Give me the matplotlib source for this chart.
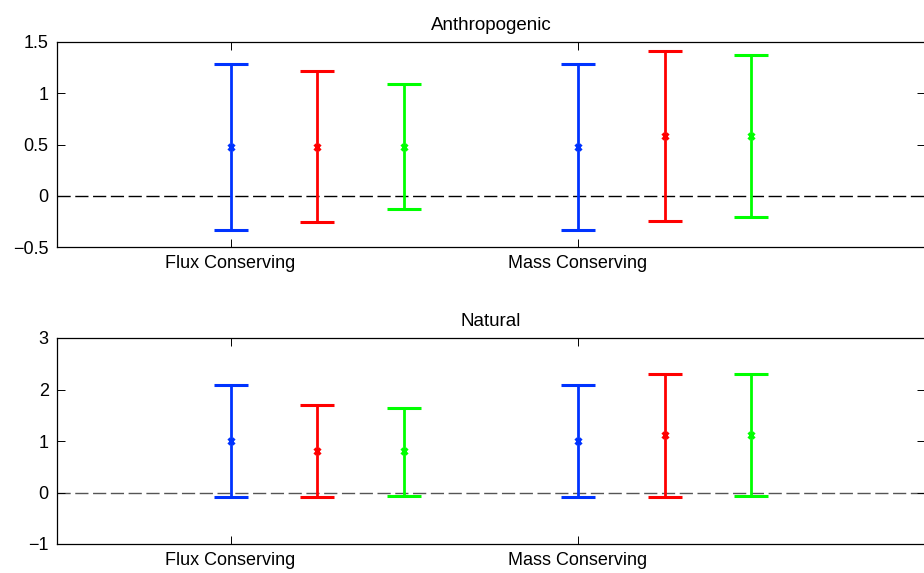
import matplotlib
matplotlib.use("Agg")
import matplotlib.pyplot as plt

plt.rcParams['font.family'] = ['Liberation Sans', 'DejaVu Sans']
plt.rcParams['lines.scale_dashes'] = False

# data
groups = ["Flux Conserving", "Mass Conserving"]
offsets = [0.0, 0.25, 0.5]
colors = ["#0033ff", "#ff0000", "#00ff00"]

# Anthropogenic: centre, lower, upper for (blue, red, green) in each group
anth_mid = [[0.48, 0.48, 0.48], [0.48, 0.58, 0.58]]
anth_lo = [[-0.33, -0.26, -0.13], [-0.33, -0.25, -0.21]]
anth_hi = [[1.29, 1.22, 1.09], [1.29, 1.41, 1.37]]

# Natural
nat_mid = [[1.0, 0.80, 0.80], [1.0, 1.11, 1.11]]
nat_lo = [[-0.08, -0.09, -0.06], [-0.08, -0.08, -0.07]]
nat_hi = [[2.09, 1.69, 1.65], [2.09, 2.31, 2.30]]


def panel(ax, title, mid, lo, hi, ylim, yticks, zero_color):
    ax.axhline(0, color=zero_color, lw=1.0, dashes=(9.5, 3.3), zorder=1)
    for g in range(len(groups)):
        for k in range(3):
            x = g + 1 + offsets[k]
            m = mid[g][k]
            ax.errorbar([x], [m], yerr=[[m - lo[g][k]], [hi[g][k] - m]],
                        fmt='x', color=colors[k], ms=4.5, mew=2.2,
                        elinewidth=2.0, capsize=12.2, capthick=2.0, zorder=3)
    ax.set_xlim(0.5, 3.0)
    ax.set_ylim(*ylim)
    ax.set_yticks(yticks)
    ax.set_yticklabels([("%g" % t).replace("-", "\u2212") for t in yticks])
    ax.set_xticks([1, 2])
    ax.set_xticklabels(groups)
    ax.tick_params(direction='in', length=5.8, width=0.7, labelsize=13,
                   top=True, right=True, pad=6)
    ax.tick_params(axis='x', pad=6)
    for s in ax.spines.values():
        s.set_linewidth(0.9)
    ax.set_title(title, fontsize=13.5, pad=9)


fig = plt.figure(figsize=(9.24, 5.73), dpi=100)
ax1 = fig.add_axes([57 / 924, 1 - 247 / 573, 868 / 924, 205 / 573])
ax2 = fig.add_axes([57 / 924, 1 - 544 / 573, 868 / 924, 206 / 573])

panel(ax1, "Anthropogenic", anth_mid, anth_lo, anth_hi, (-0.5, 1.5),
      [-0.5, 0, 0.5, 1, 1.5], "black")
panel(ax2, "Natural", nat_mid, nat_lo, nat_hi, (-1, 3),
      [-1, 0, 1, 2, 3], "#555555")

fig.savefig("out.png", dpi=100)
